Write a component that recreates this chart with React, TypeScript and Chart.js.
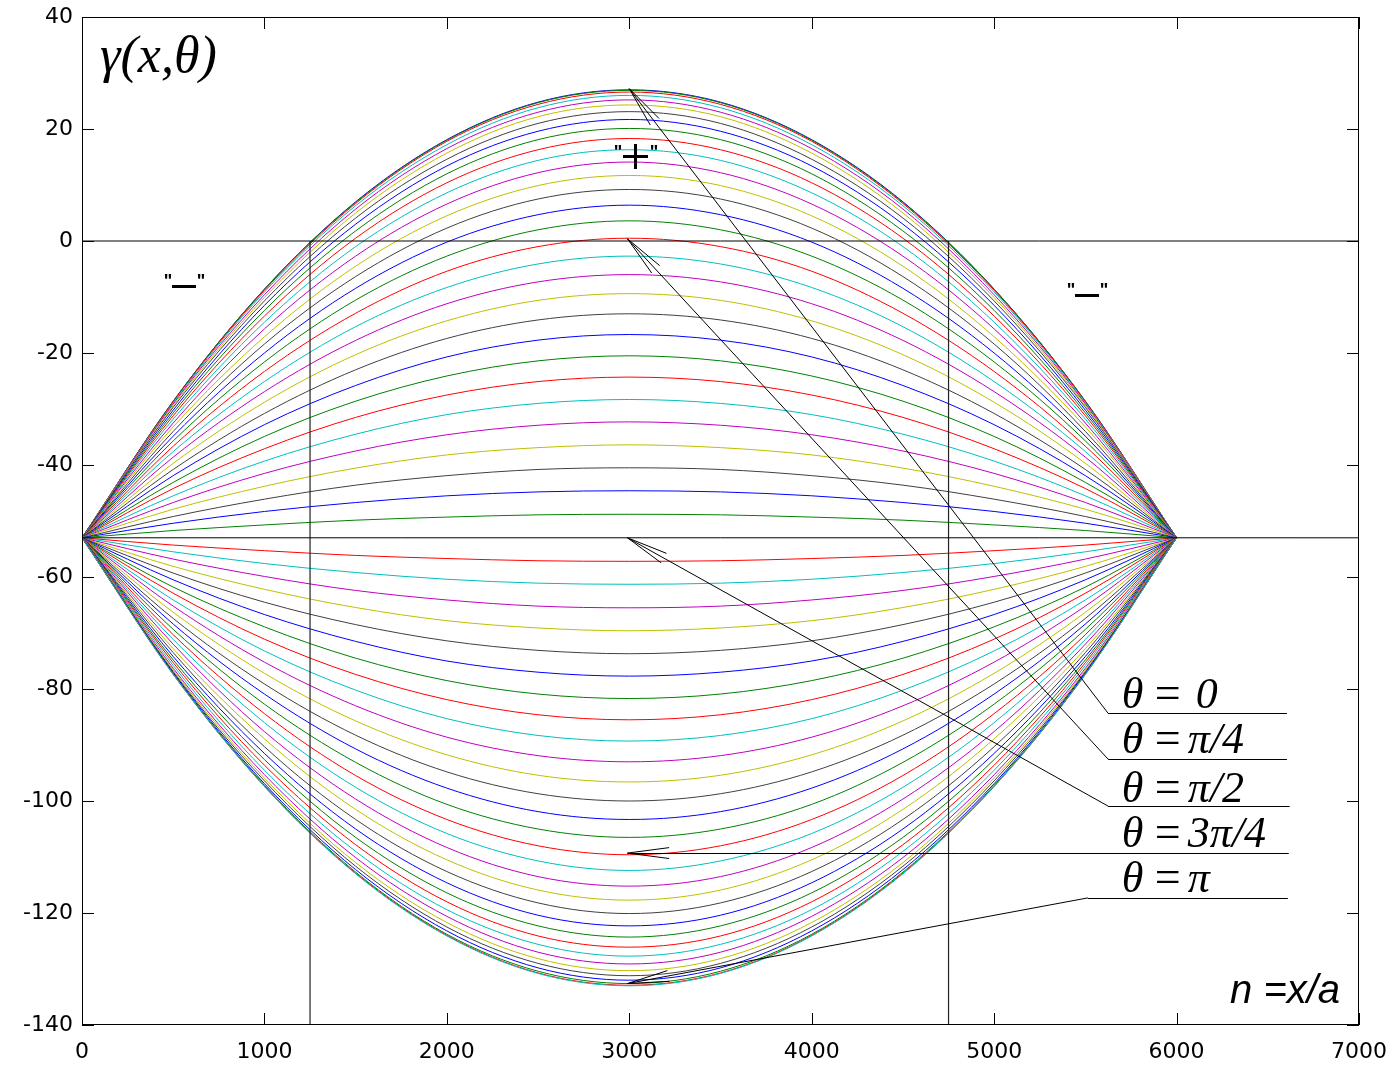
import React, { useEffect, useRef } from "react";
import { Chart, registerables } from "chart.js";

Chart.register(...registerables);

// x sample positions (curves are symmetric about x = 3000)
const xPositions = [0, 500, 1000, 1500, 2000, 2500, 3000, 3500, 4000, 4500, 5000, 5500, 6000];

// left half of each curve: values at x = 0, 500, 1000, 1500, 2000, 2500, 3000 (upper family, theta from 0 toward pi/2)
const upperHalfRows = [
  [-53, -28.6, -8.6, 7.0, 18.1, 24.8, 27.0],
  [-53, -28.6, -8.6, 6.9, 18.0, 24.7, 26.9],
  [-53, -28.7, -8.8, 6.7, 17.8, 24.4, 26.6],
  [-53, -28.9, -9.1, 6.3, 17.2, 23.8, 26.0],
  [-53, -29.1, -9.6, 5.7, 16.5, 23.0, 25.2],
  [-53, -29.4, -10.1, 5.0, 15.7, 22.2, 24.3],
  [-53, -29.7, -10.7, 4.1, 14.6, 21.0, 23.1],
  [-53, -30.2, -11.5, 3.0, 13.4, 19.6, 21.7],
  [-53, -30.7, -12.4, 1.8, 12.0, 18.1, 20.1],
  [-53, -31.2, -13.4, 0.5, 10.4, 16.3, 18.3],
  [-53, -31.8, -14.5, -1.0, 8.6, 14.4, 16.3],
  [-53, -32.5, -15.7, -2.7, 6.6, 12.2, 14.1],
  [-53, -33.2, -17.1, -4.5, 4.5, 9.9, 11.7],
  [-53, -34.0, -18.4, -6.35, 2.3, 7.5, 9.2],
  [-53, -34.85, -20.0, -8.45, -0.2, 4.7, 6.4],
  [-53, -35.7, -21.6, -10.55, -2.7, 2.0, 3.6],
  [-53, -36.65, -23.3, -12.9, -5.4, -1.0, 0.5],
  [-53, -37.6, -25.1, -15.3, -8.3, -4.1, -2.7],
  [-53, -38.6, -26.9, -17.75, -11.2, -7.3, -6.0],
  [-53, -39.7, -28.8, -20.3, -14.25, -10.6, -9.4],
  [-53, -40.8, -30.8, -23.0, -17.4, -14.1, -13.0],
  [-53, -41.9, -32.8, -25.8, -20.7, -17.7, -16.7],
  [-53, -43.1, -34.9, -28.6, -24.1, -21.4, -20.5],
  [-53, -44.2, -37.1, -31.5, -27.5, -25.1, -24.3],
  [-53, -45.5, -39.3, -34.5, -31.0, -29.0, -28.3],
  [-53, -46.7, -41.5, -37.5, -34.6, -32.9, -32.3],
  [-53, -47.9, -43.8, -40.55, -38.2, -36.9, -36.4],
  [-53, -49.2, -46.1, -43.6, -41.9, -40.8, -40.5],
  [-53, -50.4, -48.3, -46.7, -45.5, -44.8, -44.6],
  [-53, -51.7, -50.7, -49.85, -49.3, -48.9, -48.8],
];

// lower family, theta from pi/2 toward pi
const lowerHalfRows = [
  [-53, -54.3, -55.3, -56.15, -56.7, -57.1, -57.2],
  [-53, -55.5, -57.6, -59.2, -60.4, -61.1, -61.3],
  [-53, -56.8, -59.9, -62.4, -64.1, -65.2, -65.5],
  [-53, -58.1, -62.2, -65.45, -67.8, -69.1, -69.6],
  [-53, -59.3, -64.5, -68.5, -71.4, -73.1, -73.7],
  [-53, -60.5, -66.7, -71.5, -75.0, -77.0, -77.7],
  [-53, -61.8, -68.9, -74.5, -78.5, -80.9, -81.7],
  [-53, -62.9, -71.1, -77.4, -81.9, -84.6, -85.5],
  [-53, -64.1, -73.2, -80.2, -85.3, -88.3, -89.3],
  [-53, -65.2, -75.2, -83.0, -88.6, -91.9, -93.0],
  [-53, -66.3, -77.2, -85.7, -91.75, -95.4, -96.6],
  [-53, -67.4, -79.1, -88.25, -94.8, -98.7, -100.0],
  [-53, -68.4, -80.9, -90.7, -97.7, -101.9, -103.3],
  [-53, -69.35, -82.7, -93.1, -100.6, -105.0, -106.5],
  [-53, -70.3, -84.4, -95.45, -103.3, -108.0, -109.6],
  [-53, -71.15, -86.0, -97.55, -105.8, -110.7, -112.4],
  [-53, -72.0, -87.6, -99.65, -108.3, -113.5, -115.2],
  [-53, -72.8, -88.9, -101.5, -110.5, -115.9, -117.7],
  [-53, -73.5, -90.3, -103.3, -112.6, -118.2, -120.1],
  [-53, -74.2, -91.5, -105.0, -114.6, -120.4, -122.3],
  [-53, -74.8, -92.6, -106.5, -116.4, -122.3, -124.3],
  [-53, -75.3, -93.6, -107.8, -118.0, -124.1, -126.1],
  [-53, -75.8, -94.5, -109.0, -119.4, -125.6, -127.7],
  [-53, -76.3, -95.3, -110.1, -120.6, -127.0, -129.1],
  [-53, -76.6, -95.9, -111.0, -121.7, -128.15, -130.3],
  [-53, -76.9, -96.4, -111.65, -122.5, -129.0, -131.2],
  [-53, -77.1, -96.9, -112.25, -123.2, -129.8, -132.0],
  [-53, -77.3, -97.2, -112.7, -123.8, -130.4, -132.6],
  [-53, -77.4, -97.4, -112.9, -124.0, -130.7, -132.9],
  [-53, -77.4, -97.4, -113.0, -124.1, -130.8, -133.0],
];

// reference lines
const horizontalRefLevels = [0, -53];
const dividerXs = [1250, 4750];

// axis ticks
const xTickValues = [0, 1000, 2000, 3000, 4000, 5000, 6000, 7000];
const yTickValues = [40, 20, 0, -20, -40, -60, -80, -100, -120, -140];

// annotation labels
const thetaLabels = ["0", "π/4", "π/2", "3π/4", "π"];
const leaderTips = [
  [3000, 27.2],
  [2990, 0.4],
  [2990, -53],
  [2990, -109.3],
  [2990, -132.6],
];
const leaderKnees = [
  [5624, -84.3],
  [5624, -92.5],
  [5624, -100.9],
  [2990, -109.3],
  [5514, -117.3],
];
const underlineEnds = [6605, 6605, 6620, 6615, 6610];
const labelBaselines = [-83.4, -91.4, -100.2, -108.2, -116.25];

const matlabColors = ["#0000ff", "#008000", "#ff0000", "#00bfbf", "#bf00bf", "#bfbf00", "#404040"];

const fullRow = (half: number[]) => [...half, ...half.slice(0, -1).reverse()];

const annotationPlugin = {
  id: "annotations",
  afterDatasetsDraw(chart: any) {
    const { ctx, chartArea: ca, scales } = chart;
    const X = (v: number) => scales.x.getPixelForValue(v);
    const Y = (v: number) => scales.y.getPixelForValue(v);
    ctx.save();
    ctx.strokeStyle = "#000";
    ctx.fillStyle = "#000";
    ctx.lineWidth = 1;
    const line = (x1: number, y1: number, x2: number, y2: number) => {
      ctx.beginPath();
      ctx.moveTo(x1, y1);
      ctx.lineTo(x2, y2);
      ctx.stroke();
    };
    // box
    ctx.strokeRect(Math.round(ca.left) + 0.5, Math.round(ca.top) + 0.5, Math.round(ca.right - ca.left) - 1, Math.round(ca.bottom - ca.top) - 1);
    // inner ticks
    const tl = 12;
    xTickValues.forEach((v) => {
      const px = Math.round(X(v)) + 0.5;
      line(px, ca.bottom, px, ca.bottom - tl);
      line(px, ca.top, px, ca.top + tl);
    });
    yTickValues.forEach((v) => {
      const py = Math.round(Y(v)) + 0.5;
      line(ca.left, py, ca.left + tl, py);
      line(ca.right, py, ca.right - tl, py);
    });

    // leaders
    const arrowHead = (tx: number, ty: number, fx: number, fy: number) => {
      const ang = Math.atan2(fy - ty, fx - tx);
      const len = 42;
      for (const s of [-0.13, 0.13]) {
        line(tx, ty, tx + len * Math.cos(ang + s), ty + len * Math.sin(ang + s));
      }
    };
    thetaLabels.forEach((lab, i) => {
      const tx = X(leaderTips[i][0]);
      const ty = Y(leaderTips[i][1]);
      const kx = X(leaderKnees[i][0]);
      const ky = Y(leaderKnees[i][1]);
      const ex = X(underlineEnds[i]);
      if (Math.abs(kx - tx) > 1) {
        line(tx, ty, kx, ky);
        line(kx, Math.round(ky) + 0.5, ex, Math.round(ky) + 0.5);
        arrowHead(tx, ty, kx, ky);
      } else {
        line(tx, Math.round(ty) + 0.5, ex, Math.round(ty) + 0.5);
        arrowHead(tx, ty, ex, ty);
      }
      const bx = X(5700);
      const by = Y(labelBaselines[i]);
      ctx.textBaseline = "alphabetic";
      ctx.textAlign = "left";
      ctx.font = "italic 44px 'Liberation Serif'";
      ctx.fillText("θ", bx, by);
      ctx.font = "46px 'Liberation Serif'";
      ctx.fillText("=", bx + 33, by);
      ctx.font = "italic 44px 'Liberation Serif'";
      ctx.fillText(lab, bx + (lab === "0" ? 74 : 66), by);
    });

    // title gamma(x, theta)
    ctx.font = "italic 52px 'Liberation Serif'";
    ctx.textAlign = "left";
    ctx.fillText("γ(x,θ)", X(99), Y(30.2));

    // n = x/a
    ctx.font = "italic 40px 'Liberation Sans'";
    ctx.fillText("n =x/a", X(6293), Y(-136.1));

    // "+" sign label
    const pcx = Math.round(X(3030));
    const pcy = Math.round(Y(15.2));
    ctx.fillRect(pcx - 12, pcy - 1, 25, 3);
    ctx.fillRect(pcx - 1, pcy - 12, 3, 25);
    ctx.font = "bold 18px 'Liberation Sans'";
    ctx.textBaseline = "top";
    ctx.textAlign = "center";
    ctx.fillText('"', pcx - 17, pcy - 12);
    ctx.fillText('"', pcx + 19, pcy - 12);

    // "-" labels
    const minusAt = (xv: number, yv: number) => {
      const cx = Math.round(X(xv));
      const cy = Math.round(Y(yv));
      ctx.fillRect(cx - 12, cy, 24, 3);
      ctx.fillText('"', cx - 16, cy - 12);
      ctx.fillText('"', cx + 17, cy - 12);
    };
    minusAt(559, -7.8);
    minusAt(5509, -9.4);

    ctx.restore();
  },
};

export default function App() {
  const canvasRef = useRef<HTMLCanvasElement | null>(null);

  useEffect(() => {
    if (!canvasRef.current) return;
    const allRows = [...upperHalfRows, ...lowerHalfRows];
    const curveSets = allRows.map((half, i) => {
      const ys = fullRow(half);
      return {
        data: xPositions.map((x, j) => ({ x, y: ys[j] })),
        borderColor: matlabColors[i % 7],
        borderWidth: 1,
        pointRadius: 0,
        fill: false,
        cubicInterpolationMode: "monotone" as const,
        order: allRows.length - i + 1,
      };
    });
    const refSets = [
      ...horizontalRefLevels.map((lv) => ({
        data: [
          { x: 0, y: lv },
          { x: 7000, y: lv },
        ],
        borderColor: "#000",
        borderWidth: 1,
        pointRadius: 0,
        fill: false,
        order: 0,
      })),
      ...dividerXs.map((xv) => ({
        data: [
          { x: xv, y: 0 },
          { x: xv, y: -140 },
        ],
        borderColor: "#222",
        borderWidth: 1.2,
        pointRadius: 0,
        fill: false,
        order: 0,
      })),
    ];

    const chart = new Chart(canvasRef.current, {
      type: "line",
      data: { datasets: [...refSets, ...curveSets] as any },
      options: {
        responsive: false,
        animation: false,
        events: [],
        layout: { padding: { top: 17, right: 38, left: 0, bottom: 0 } },
        plugins: { legend: { display: false }, tooltip: { enabled: false } },
        scales: {
          x: {
            type: "linear",
            min: 0,
            max: 7000,
            afterFit: (s: any) => {
              s.height = 40;
            },
            afterBuildTicks: (s: any) => {
              s.ticks = xTickValues.map((v) => ({ value: v }));
            },
            ticks: {
              color: "#000",
              padding: 6,
              maxRotation: 0,
              callback: (v: any) => String(v),
              font: { family: "'DejaVu Sans'", size: 22 },
            },
            grid: { display: false },
            border: { display: false },
          },
          y: {
            type: "linear",
            min: -140,
            max: 40,
            afterFit: (s: any) => {
              s.width = 82;
            },
            afterBuildTicks: (s: any) => {
              s.ticks = yTickValues.map((v) => ({ value: v }));
            },
            ticks: {
              color: "#000",
              padding: 1,
              callback: (v: any) => String(v),
              font: { family: "'DejaVu Sans'", size: 22 },
            },
            grid: { display: false },
            border: { display: false },
          },
        },
      },
      plugins: [annotationPlugin],
    });
    return () => chart.destroy();
  }, []);

  return (
    <div style={{ position: "fixed", left: 0, top: 0, width: 1397, height: 1065, background: "#fff" }}>
      <canvas ref={canvasRef} width={1397} height={1065} style={{ display: "block" }} />
    </div>
  );
}
